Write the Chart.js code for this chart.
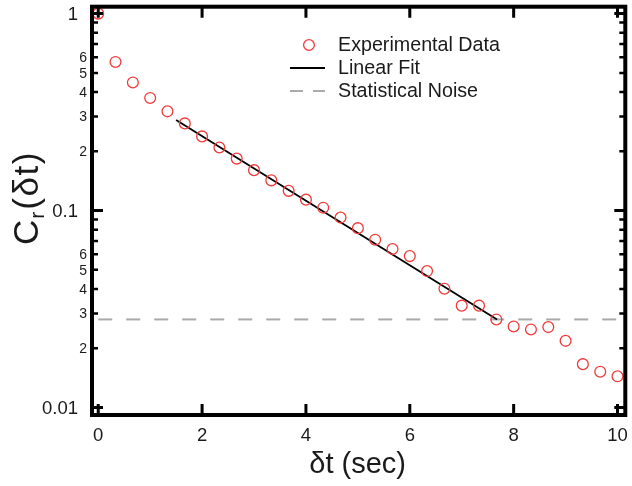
<!DOCTYPE html>
<html><head><meta charset="utf-8">
<script src="https://cdn.jsdelivr.net/npm/chart.js@4/dist/chart.umd.min.js"></script>
<style>html,body{margin:0;padding:0;background:#fff}#wrap{width:632px;height:486px;position:relative}</style>
</head><body><div id="wrap"><canvas id="c"></canvas></div>
<script>
// ---- data ----
const timeSec = [0, 0.333, 0.667, 1.0, 1.333, 1.667, 2.0, 2.333, 2.667, 3.0, 3.333,
  3.667, 4.0, 4.333, 4.667, 5.0, 5.333, 5.667, 6.0, 6.333, 6.667,
  7.0, 7.333, 7.667, 8.0, 8.333, 8.667, 9.0, 9.333, 9.667, 10.0];
const correlation = [1.0, 0.568, 0.447, 0.373, 0.319, 0.277, 0.238, 0.209, 0.1835, 0.1604, 0.1423,
  0.1259, 0.1136, 0.1034, 0.0921, 0.0814, 0.0711, 0.0638, 0.0587, 0.0493, 0.0401,
  0.0329, 0.0329, 0.0280, 0.0258, 0.0249, 0.0256, 0.0218, 0.0166, 0.0152, 0.0144];
const fitTime = [1.5, 7.68];
const fitValue = [0.288, 0.0280];
const noiseTime = [0, 10.15];
const noiseValue = [0.028, 0.028];
const xTicks = [0, 2, 4, 6, 8, 10];
const yMajorTicks = [0.01, 0.1, 1];
const yMinorTicks = [0.02,0.03,0.04,0.05,0.06,0.07,0.08,0.09,0.2,0.3,0.4,0.5,0.6,0.7,0.8,0.9];
const yMinorLabels = ['2','3','4','5','6','','','','2','3','4','5','6','','',''];
const yMajorLabels = ['0.01', '0.1', '1'];
const xTitle = 'δt (sec)';

const FONT = '"Liberation Sans", Arial, Helvetica, sans-serif';
const toXY = (xs, ys) => xs.map((x, i) => ({x: x, y: ys[i]}));

const framePlugin = {
  id: 'frame',
  afterDraw(chart) {
    const ctx = chart.ctx, a = chart.chartArea;
    const xs = chart.scales.x, ys = chart.scales.y;
    ctx.save();
    ctx.strokeStyle = '#000';
    const hTick = (v, len, w) => {
      const py = ys.getPixelForValue(v);
      ctx.lineWidth = w;
      ctx.beginPath();
      ctx.moveTo(a.left, py); ctx.lineTo(a.left + len, py);
      ctx.moveTo(a.right, py); ctx.lineTo(a.right - len, py);
      ctx.stroke();
    };
    yMajorTicks.forEach(v => hTick(v, 11, 3));
    yMinorTicks.forEach(v => hTick(v, 6, 2.5));
    xTicks.forEach(v => {
      const px = xs.getPixelForValue(v);
      ctx.lineWidth = 3;
      ctx.beginPath();
      ctx.moveTo(px, a.bottom); ctx.lineTo(px, a.bottom - 11);
      ctx.moveTo(px, a.top); ctx.lineTo(px, a.top + 11);
      ctx.stroke();
    });
    ctx.lineWidth = 4;
    ctx.strokeRect(a.left, a.top, a.right - a.left, a.bottom - a.top);

    ctx.fillStyle = '#1a1a1a';
    ctx.textBaseline = 'middle';
    ctx.textAlign = 'right';
    ctx.font = '18.5px ' + FONT;
    yMajorTicks.forEach((v, i) => ctx.fillText(yMajorLabels[i], a.left - 14, ys.getPixelForValue(v) + 1));
    ctx.font = '14px ' + FONT;
    yMinorTicks.forEach((v, i) => { if (yMinorLabels[i]) ctx.fillText(yMinorLabels[i], a.left - 5, ys.getPixelForValue(v) + 1); });
    ctx.textAlign = 'center';
    ctx.font = '18.5px ' + FONT;
    xTicks.forEach(v => ctx.fillText(String(v), xs.getPixelForValue(v), a.bottom + 21));

    ctx.font = '29px ' + FONT;
    ctx.fillText(xTitle, (a.left + a.right) / 2 - 1, a.bottom + 50);

    // y title C_r(δt), rotated, glyph by glyph
    ctx.save();
    ctx.translate(28, 188);
    ctx.rotate(-Math.PI / 2);
    ctx.textAlign = 'left';
    const big = '35px ' + FONT, small = '21px ' + FONT;
    let x0 = -57;
    ctx.font = big; ctx.fillText('C', x0, 0); x0 += ctx.measureText('C').width + 1;
    ctx.font = small; ctx.fillText('r', x0, 10); x0 += ctx.measureText('r').width + 2;
    ctx.font = big;
    ['(', 'δ', 't', ')'].forEach(ch => { ctx.fillText(ch, x0, 0); x0 += ctx.measureText(ch).width + 1.5; });
    ctx.restore();

    const ds = chart.data.datasets;
    const lx = 290, tx = 338, rows = [45, 68, 91];
    ctx.textAlign = 'left';
    ctx.font = '19.7px ' + FONT;
    ds.forEach((d, i) => {
      const y = rows[i];
      ctx.save();
      ctx.strokeStyle = d.borderColor; ctx.lineWidth = d.borderWidth;
      if (d.showLine) {
        ctx.setLineDash(d.borderDash ? [13, 10] : []);
        ctx.beginPath(); ctx.moveTo(lx, y); ctx.lineTo(lx + 35, y); ctx.stroke();
      } else {
        ctx.beginPath(); ctx.arc(lx + 19, y, d.pointRadius, 0, Math.PI * 2); ctx.stroke();
      }
      ctx.restore();
      ctx.fillStyle = '#1a1a1a';
      ctx.fillText(d.label, tx, y + 1);
    });
    ctx.restore();
  }
};

new Chart(document.getElementById('c'), {
  type: 'scatter',
  data: {
    datasets: [
      { label: 'Experimental Data', data: toXY(timeSec, correlation), showLine: false,
        pointStyle: 'circle', pointRadius: 5.4, pointHoverRadius: 5.4, borderColor: '#f23a3a',
        backgroundColor: 'rgba(0,0,0,0)', borderWidth: 1.3 },
      { label: 'Linear Fit', data: toXY(fitTime, fitValue), showLine: true, pointRadius: 0,
        borderColor: '#000', borderWidth: 1.8, backgroundColor: '#000' },
      { label: 'Statistical Noise', data: toXY(noiseTime, noiseValue), showLine: true, pointRadius: 0,
        borderColor: '#aaaaaa', borderWidth: 2, borderDash: [14, 14], backgroundColor: '#aaa' }
    ]
  },
  options: {
    responsive: true, maintainAspectRatio: false, animation: false,
    layout: { padding: { left: 92, right: 4, top: 2, bottom: 71 } },
    plugins: { legend: { display: false }, tooltip: { enabled: false } },
    scales: {
      x: { type: 'linear', min: -0.12, max: 10.15, display: false },
      y: { type: 'logarithmic', min: 0.00916, max: 1.084, display: false }
    }
  },
  plugins: [framePlugin]
});
</script></body></html>
